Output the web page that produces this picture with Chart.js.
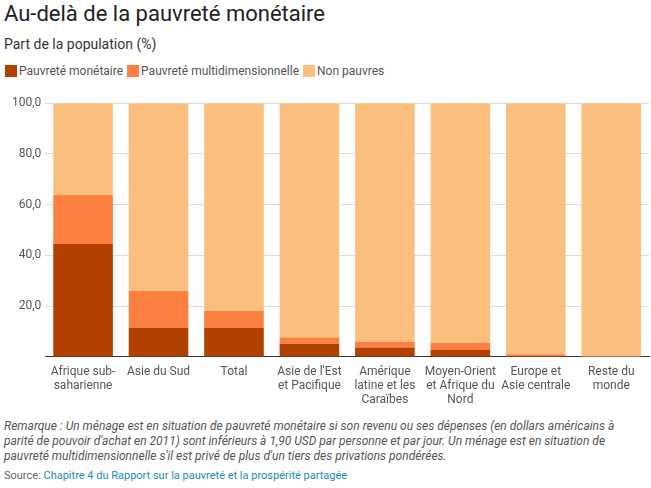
<!DOCTYPE html>
<html><head><meta charset="utf-8">
<script src="https://cdn.jsdelivr.net/npm/chart.js@4"></script>
<style>
body{margin:0;background:#fff;font-family:Roboto,sans-serif;width:651px;height:488px;overflow:hidden;position:relative}
#title{position:absolute;left:4px;top:1px;font-size:22px;color:#222}
#sub{position:absolute;left:4px;top:36px;font-size:14px;color:#333}
#legend{position:absolute;left:5px;top:64px;font-size:12px;color:#555;display:flex;white-space:nowrap}
#legend .it{display:flex;align-items:center;margin-right:4px}
#legend .bx{width:12px;height:12px;margin-right:2px}
#wrap{position:absolute;left:0;top:92px;width:651px;height:315px}
#note{position:absolute;left:4px;top:419px;width:640px;font-size:12px;font-style:italic;color:#555;line-height:15px}
#src{position:absolute;left:4px;top:469px;font-size:11px;color:#666}
#src span{color:#1a8bb9}
</style></head><body>
<div id="title">Au-delà de la pauvreté monétaire</div>
<div id="sub">Part de la population (%)</div>
<div id="legend"></div>
<div id="wrap"><canvas id="c"></canvas></div>
<div id="note">Remarque : Un ménage est en situation de pauvreté monétaire si son revenu ou ses dépenses (en dollars américains à parité de pouvoir d'achat en 2011) sont inférieurs à 1,90 USD par personne et par jour. Un ménage est en situation de pauvreté multidimensionnelle s'il est privé de plus d'un tiers des privations pondérées.</div>
<div id="src">Source: <span>Chapitre 4 du Rapport sur la pauvreté et la prospérité partagée</span></div>
<script>
const categories = [["Afrique sub-","saharienne"],["Asie du Sud"],["Total"],["Asie de l'Est","et Pacifique"],["Amérique","latine et les","Caraïbes"],["Moyen-Orient","et Afrique du","Nord"],["Europe et","Asie centrale"],["Reste du","monde"]];
const monetaire = [44.5, 11.5, 11.5, 5.2, 3.7, 2.7, 0.2, 0];
const multidim = [19.3, 14.5, 6.6, 2.4, 2.3, 2.8, 0.8, 0];
const nonPauvres = [36.2, 74.0, 81.9, 92.4, 94.0, 94.5, 99.0, 100];
const seriesNames = ["Pauvreté monétaire","Pauvreté multidimensionnelle","Non pauvres"];
const seriesColors = ['#b24100', '#fd8041', '#fdbf80'];
const yTicks = [0,20,40,60,80,100];

const lg = document.getElementById('legend');
seriesNames.forEach((n, i) => {
  const it = document.createElement('div'); it.className = 'it';
  const b = document.createElement('div'); b.className = 'bx'; b.style.background = seriesColors[i];
  it.appendChild(b); it.appendChild(document.createTextNode(n)); lg.appendChild(it);
});

new Chart(document.getElementById('c'), {
  type: 'bar',
  data: {
    labels: categories,
    datasets: [
      {label: seriesNames[0], data: monetaire, backgroundColor: seriesColors[0]},
      {label: seriesNames[1], data: multidim, backgroundColor: seriesColors[1]},
      {label: seriesNames[2], data: nonPauvres, backgroundColor: seriesColors[2]}
    ]
  },
  options: {
    responsive: true, maintainAspectRatio: false, animation: false,
    layout: {padding: {left: 8, right: 2, top: 8, bottom: 0}},
    datasets: {bar: {categoryPercentage: 1, barPercentage: 0.79}},
    plugins: {legend: {display: false}, tooltip: {enabled: false}},
    scales: {
      x: {
        stacked: true,
        grid: {display: false},
        border: {display: true, color: '#333', width: 1},
        ticks: {color: '#555', font: {family: 'Roboto', size: 12, lineHeight: 1.17}, maxRotation: 0, autoSkip: false, padding: 0}
      },
      y: {
        stacked: true, min: 0, max: 100,
        afterBuildTicks: (s) => { s.ticks = yTicks.map(v => ({value: v})); },
        grid: {color: '#dcdcdc', drawTicks: false},
        border: {display: false},
        ticks: {color: '#555', font: {family: 'Roboto', size: 12}, padding: 4,
          callback: (v) => v === 0 ? '' : v.toFixed(1).replace('.', ',')}
      }
    }
  }
});
</script>
</body></html>
